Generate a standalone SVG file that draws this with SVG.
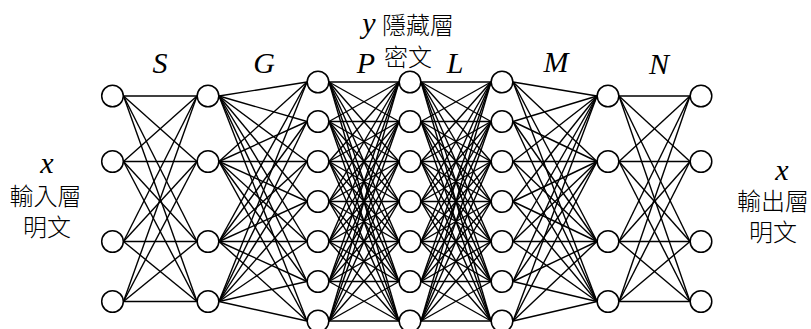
<svg xmlns="http://www.w3.org/2000/svg" width="811" height="329" viewBox="0 0 811 329">
<style>
.e line{stroke:#000;stroke-width:1.4}
.n circle{fill:#fff;stroke:#000;stroke-width:1.5}
.lat{font-family:"Liberation Serif",serif;font-style:italic;font-size:30px;fill:#000}
.cjk{font-family:"Noto Sans CJK TC","Noto Sans CJK SC",sans-serif;font-weight:300;font-size:24px;fill:#000}
</style>
<rect width="811" height="329" fill="#fff"/>
<g id="connectors" class="e">
<!-- gap 1 -->
<line x1="123.5" y1="96" x2="197" y2="96"/><line x1="123.5" y1="96" x2="197" y2="161.5"/><line x1="123.5" y1="96" x2="197" y2="241.5"/><line x1="123.5" y1="96" x2="197" y2="301.5"/>
<line x1="123.5" y1="161.5" x2="197" y2="96"/><line x1="123.5" y1="161.5" x2="197" y2="161.5"/><line x1="123.5" y1="161.5" x2="197" y2="241.5"/><line x1="123.5" y1="161.5" x2="197" y2="301.5"/>
<line x1="123.5" y1="241.5" x2="197" y2="96"/><line x1="123.5" y1="241.5" x2="197" y2="161.5"/><line x1="123.5" y1="241.5" x2="197" y2="241.5"/><line x1="123.5" y1="241.5" x2="197" y2="301.5"/>
<line x1="123.5" y1="301.5" x2="197" y2="96"/><line x1="123.5" y1="301.5" x2="197" y2="161.5"/><line x1="123.5" y1="301.5" x2="197" y2="241.5"/><line x1="123.5" y1="301.5" x2="197" y2="301.5"/>
<!-- gap 2 -->
<line x1="219" y1="96" x2="307" y2="82"/><line x1="219" y1="96" x2="307" y2="121.5"/><line x1="219" y1="96" x2="307" y2="161.5"/><line x1="219" y1="96" x2="307" y2="201.5"/><line x1="219" y1="96" x2="307" y2="241.5"/><line x1="219" y1="96" x2="307" y2="281.5"/><line x1="219" y1="96" x2="307" y2="321"/>
<line x1="219" y1="161.5" x2="307" y2="82"/><line x1="219" y1="161.5" x2="307" y2="121.5"/><line x1="219" y1="161.5" x2="307" y2="161.5"/><line x1="219" y1="161.5" x2="307" y2="201.5"/><line x1="219" y1="161.5" x2="307" y2="241.5"/><line x1="219" y1="161.5" x2="307" y2="281.5"/><line x1="219" y1="161.5" x2="307" y2="321"/>
<line x1="219" y1="241.5" x2="307" y2="82"/><line x1="219" y1="241.5" x2="307" y2="121.5"/><line x1="219" y1="241.5" x2="307" y2="161.5"/><line x1="219" y1="241.5" x2="307" y2="201.5"/><line x1="219" y1="241.5" x2="307" y2="241.5"/><line x1="219" y1="241.5" x2="307" y2="281.5"/><line x1="219" y1="241.5" x2="307" y2="321"/>
<line x1="219" y1="301.5" x2="307" y2="82"/><line x1="219" y1="301.5" x2="307" y2="121.5"/><line x1="219" y1="301.5" x2="307" y2="161.5"/><line x1="219" y1="301.5" x2="307" y2="201.5"/><line x1="219" y1="301.5" x2="307" y2="241.5"/><line x1="219" y1="301.5" x2="307" y2="281.5"/><line x1="219" y1="301.5" x2="307" y2="321"/>
<!-- gap 3 -->
<line x1="329" y1="82" x2="399" y2="82"/><line x1="329" y1="82" x2="399" y2="121.5"/><line x1="329" y1="82" x2="399" y2="161.5"/><line x1="329" y1="82" x2="399" y2="201.5"/><line x1="329" y1="82" x2="399" y2="241.5"/><line x1="329" y1="82" x2="399" y2="281.5"/><line x1="329" y1="82" x2="399" y2="321"/>
<line x1="329" y1="121.5" x2="399" y2="82"/><line x1="329" y1="121.5" x2="399" y2="121.5"/><line x1="329" y1="121.5" x2="399" y2="161.5"/><line x1="329" y1="121.5" x2="399" y2="201.5"/><line x1="329" y1="121.5" x2="399" y2="241.5"/><line x1="329" y1="121.5" x2="399" y2="281.5"/><line x1="329" y1="121.5" x2="399" y2="321"/>
<line x1="329" y1="161.5" x2="399" y2="82"/><line x1="329" y1="161.5" x2="399" y2="121.5"/><line x1="329" y1="161.5" x2="399" y2="161.5"/><line x1="329" y1="161.5" x2="399" y2="201.5"/><line x1="329" y1="161.5" x2="399" y2="241.5"/><line x1="329" y1="161.5" x2="399" y2="281.5"/><line x1="329" y1="161.5" x2="399" y2="321"/>
<line x1="329" y1="201.5" x2="399" y2="82"/><line x1="329" y1="201.5" x2="399" y2="121.5"/><line x1="329" y1="201.5" x2="399" y2="161.5"/><line x1="329" y1="201.5" x2="399" y2="201.5"/><line x1="329" y1="201.5" x2="399" y2="241.5"/><line x1="329" y1="201.5" x2="399" y2="281.5"/><line x1="329" y1="201.5" x2="399" y2="321"/>
<line x1="329" y1="241.5" x2="399" y2="82"/><line x1="329" y1="241.5" x2="399" y2="121.5"/><line x1="329" y1="241.5" x2="399" y2="161.5"/><line x1="329" y1="241.5" x2="399" y2="201.5"/><line x1="329" y1="241.5" x2="399" y2="241.5"/><line x1="329" y1="241.5" x2="399" y2="281.5"/><line x1="329" y1="241.5" x2="399" y2="321"/>
<line x1="329" y1="281.5" x2="399" y2="82"/><line x1="329" y1="281.5" x2="399" y2="121.5"/><line x1="329" y1="281.5" x2="399" y2="161.5"/><line x1="329" y1="281.5" x2="399" y2="201.5"/><line x1="329" y1="281.5" x2="399" y2="241.5"/><line x1="329" y1="281.5" x2="399" y2="281.5"/><line x1="329" y1="281.5" x2="399" y2="321"/>
<line x1="329" y1="321" x2="399" y2="82"/><line x1="329" y1="321" x2="399" y2="121.5"/><line x1="329" y1="321" x2="399" y2="161.5"/><line x1="329" y1="321" x2="399" y2="201.5"/><line x1="329" y1="321" x2="399" y2="241.5"/><line x1="329" y1="321" x2="399" y2="281.5"/><line x1="329" y1="321" x2="399" y2="321"/>
<!-- gap 4 -->
<line x1="421" y1="82" x2="491" y2="82"/><line x1="421" y1="82" x2="491" y2="121.5"/><line x1="421" y1="82" x2="491" y2="161.5"/><line x1="421" y1="82" x2="491" y2="201.5"/><line x1="421" y1="82" x2="491" y2="241.5"/><line x1="421" y1="82" x2="491" y2="281.5"/><line x1="421" y1="82" x2="491" y2="321"/>
<line x1="421" y1="121.5" x2="491" y2="82"/><line x1="421" y1="121.5" x2="491" y2="121.5"/><line x1="421" y1="121.5" x2="491" y2="161.5"/><line x1="421" y1="121.5" x2="491" y2="201.5"/><line x1="421" y1="121.5" x2="491" y2="241.5"/><line x1="421" y1="121.5" x2="491" y2="281.5"/><line x1="421" y1="121.5" x2="491" y2="321"/>
<line x1="421" y1="161.5" x2="491" y2="82"/><line x1="421" y1="161.5" x2="491" y2="121.5"/><line x1="421" y1="161.5" x2="491" y2="161.5"/><line x1="421" y1="161.5" x2="491" y2="201.5"/><line x1="421" y1="161.5" x2="491" y2="241.5"/><line x1="421" y1="161.5" x2="491" y2="281.5"/><line x1="421" y1="161.5" x2="491" y2="321"/>
<line x1="421" y1="201.5" x2="491" y2="82"/><line x1="421" y1="201.5" x2="491" y2="121.5"/><line x1="421" y1="201.5" x2="491" y2="161.5"/><line x1="421" y1="201.5" x2="491" y2="201.5"/><line x1="421" y1="201.5" x2="491" y2="241.5"/><line x1="421" y1="201.5" x2="491" y2="281.5"/><line x1="421" y1="201.5" x2="491" y2="321"/>
<line x1="421" y1="241.5" x2="491" y2="82"/><line x1="421" y1="241.5" x2="491" y2="121.5"/><line x1="421" y1="241.5" x2="491" y2="161.5"/><line x1="421" y1="241.5" x2="491" y2="201.5"/><line x1="421" y1="241.5" x2="491" y2="241.5"/><line x1="421" y1="241.5" x2="491" y2="281.5"/><line x1="421" y1="241.5" x2="491" y2="321"/>
<line x1="421" y1="281.5" x2="491" y2="82"/><line x1="421" y1="281.5" x2="491" y2="121.5"/><line x1="421" y1="281.5" x2="491" y2="161.5"/><line x1="421" y1="281.5" x2="491" y2="201.5"/><line x1="421" y1="281.5" x2="491" y2="241.5"/><line x1="421" y1="281.5" x2="491" y2="281.5"/><line x1="421" y1="281.5" x2="491" y2="321"/>
<line x1="421" y1="321" x2="491" y2="82"/><line x1="421" y1="321" x2="491" y2="121.5"/><line x1="421" y1="321" x2="491" y2="161.5"/><line x1="421" y1="321" x2="491" y2="201.5"/><line x1="421" y1="321" x2="491" y2="241.5"/><line x1="421" y1="321" x2="491" y2="281.5"/><line x1="421" y1="321" x2="491" y2="321"/>
<!-- gap 5 -->
<line x1="513" y1="82" x2="597" y2="96"/><line x1="513" y1="82" x2="597" y2="161.5"/><line x1="513" y1="82" x2="597" y2="241.5"/><line x1="513" y1="82" x2="597" y2="301.5"/>
<line x1="513" y1="121.5" x2="597" y2="96"/><line x1="513" y1="121.5" x2="597" y2="161.5"/><line x1="513" y1="121.5" x2="597" y2="241.5"/><line x1="513" y1="121.5" x2="597" y2="301.5"/>
<line x1="513" y1="161.5" x2="597" y2="96"/><line x1="513" y1="161.5" x2="597" y2="161.5"/><line x1="513" y1="161.5" x2="597" y2="241.5"/><line x1="513" y1="161.5" x2="597" y2="301.5"/>
<line x1="513" y1="201.5" x2="597" y2="96"/><line x1="513" y1="201.5" x2="597" y2="161.5"/><line x1="513" y1="201.5" x2="597" y2="241.5"/><line x1="513" y1="201.5" x2="597" y2="301.5"/>
<line x1="513" y1="241.5" x2="597" y2="96"/><line x1="513" y1="241.5" x2="597" y2="161.5"/><line x1="513" y1="241.5" x2="597" y2="241.5"/><line x1="513" y1="241.5" x2="597" y2="301.5"/>
<line x1="513" y1="281.5" x2="597" y2="96"/><line x1="513" y1="281.5" x2="597" y2="161.5"/><line x1="513" y1="281.5" x2="597" y2="241.5"/><line x1="513" y1="281.5" x2="597" y2="301.5"/>
<line x1="513" y1="321" x2="597" y2="96"/><line x1="513" y1="321" x2="597" y2="161.5"/><line x1="513" y1="321" x2="597" y2="241.5"/><line x1="513" y1="321" x2="597" y2="301.5"/>
<!-- gap 6 -->
<line x1="619" y1="96" x2="690" y2="96"/><line x1="619" y1="96" x2="690" y2="161.5"/><line x1="619" y1="96" x2="690" y2="241.5"/><line x1="619" y1="96" x2="690" y2="301.5"/>
<line x1="619" y1="161.5" x2="690" y2="96"/><line x1="619" y1="161.5" x2="690" y2="161.5"/><line x1="619" y1="161.5" x2="690" y2="241.5"/><line x1="619" y1="161.5" x2="690" y2="301.5"/>
<line x1="619" y1="241.5" x2="690" y2="96"/><line x1="619" y1="241.5" x2="690" y2="161.5"/><line x1="619" y1="241.5" x2="690" y2="241.5"/><line x1="619" y1="241.5" x2="690" y2="301.5"/>
<line x1="619" y1="301.5" x2="690" y2="96"/><line x1="619" y1="301.5" x2="690" y2="161.5"/><line x1="619" y1="301.5" x2="690" y2="241.5"/><line x1="619" y1="301.5" x2="690" y2="301.5"/>
</g>
<g class="n">
<g id="in1"><circle cx="112.5" cy="96" r="10.8"/></g>
<g id="in2"><circle cx="112.5" cy="161.5" r="10.8"/></g>
<g id="in3"><circle cx="112.5" cy="241.5" r="10.8"/></g>
<g id="in4"><circle cx="112.5" cy="301.5" r="10.8"/></g>
<g id="s1"><circle cx="208" cy="96" r="10.8"/></g>
<g id="s2"><circle cx="208" cy="161.5" r="10.8"/></g>
<g id="s3"><circle cx="208" cy="241.5" r="10.8"/></g>
<g id="s4"><circle cx="208" cy="301.5" r="10.8"/></g>
<g id="g1"><circle cx="318" cy="82" r="10.8"/></g>
<g id="g2"><circle cx="318" cy="121.5" r="10.8"/></g>
<g id="g3"><circle cx="318" cy="161.5" r="10.8"/></g>
<g id="g4"><circle cx="318" cy="201.5" r="10.8"/></g>
<g id="g5"><circle cx="318" cy="241.5" r="10.8"/></g>
<g id="g6"><circle cx="318" cy="281.5" r="10.8"/></g>
<g id="g7"><circle cx="318" cy="321" r="10.8"/></g>
<g id="h1"><circle cx="410" cy="82" r="10.8"/></g>
<g id="h2"><circle cx="410" cy="121.5" r="10.8"/></g>
<g id="h3"><circle cx="410" cy="161.5" r="10.8"/></g>
<g id="h4"><circle cx="410" cy="201.5" r="10.8"/></g>
<g id="h5"><circle cx="410" cy="241.5" r="10.8"/></g>
<g id="h6"><circle cx="410" cy="281.5" r="10.8"/></g>
<g id="h7"><circle cx="410" cy="321" r="10.8"/></g>
<g id="l1"><circle cx="502" cy="82" r="10.8"/></g>
<g id="l2"><circle cx="502" cy="121.5" r="10.8"/></g>
<g id="l3"><circle cx="502" cy="161.5" r="10.8"/></g>
<g id="l4"><circle cx="502" cy="201.5" r="10.8"/></g>
<g id="l5"><circle cx="502" cy="241.5" r="10.8"/></g>
<g id="l6"><circle cx="502" cy="281.5" r="10.8"/></g>
<g id="l7"><circle cx="502" cy="321" r="10.8"/></g>
<g id="m1"><circle cx="608" cy="96" r="10.8"/></g>
<g id="m2"><circle cx="608" cy="161.5" r="10.8"/></g>
<g id="m3"><circle cx="608" cy="241.5" r="10.8"/></g>
<g id="m4"><circle cx="608" cy="301.5" r="10.8"/></g>
<g id="out1"><circle cx="701" cy="96" r="10.8"/></g>
<g id="out2"><circle cx="701" cy="161.5" r="10.8"/></g>
<g id="out3"><circle cx="701" cy="241.5" r="10.8"/></g>
<g id="out4"><circle cx="701" cy="301.5" r="10.8"/></g>
</g>
<g id="labels">
<text class="lat" x="160" y="73" text-anchor="middle">S</text>
<text class="lat" x="264" y="73" text-anchor="middle">G</text>
<text class="lat" x="366" y="73" text-anchor="middle">P</text>
<text class="lat" x="455" y="73" text-anchor="middle">L</text>
<text class="lat" x="556" y="72" text-anchor="middle">M</text>
<text class="lat" x="659" y="74" text-anchor="middle">N</text>
<text class="lat" x="369" y="33" text-anchor="middle">y</text>
<text class="cjk" x="382" y="34">隱藏層</text>
<text class="cjk" x="384" y="66">密文</text>
<text class="lat" x="47" y="173" text-anchor="middle">x</text>
<text class="cjk" x="45.5" y="205" text-anchor="middle">輸入層</text>
<text class="cjk" x="47" y="236" text-anchor="middle">明文</text>
<text class="lat" x="782" y="180" text-anchor="middle">x</text>
<text class="cjk" x="773" y="210" text-anchor="middle">輸出層</text>
<text class="cjk" x="773" y="241" text-anchor="middle">明文</text>
</g>
</svg>
